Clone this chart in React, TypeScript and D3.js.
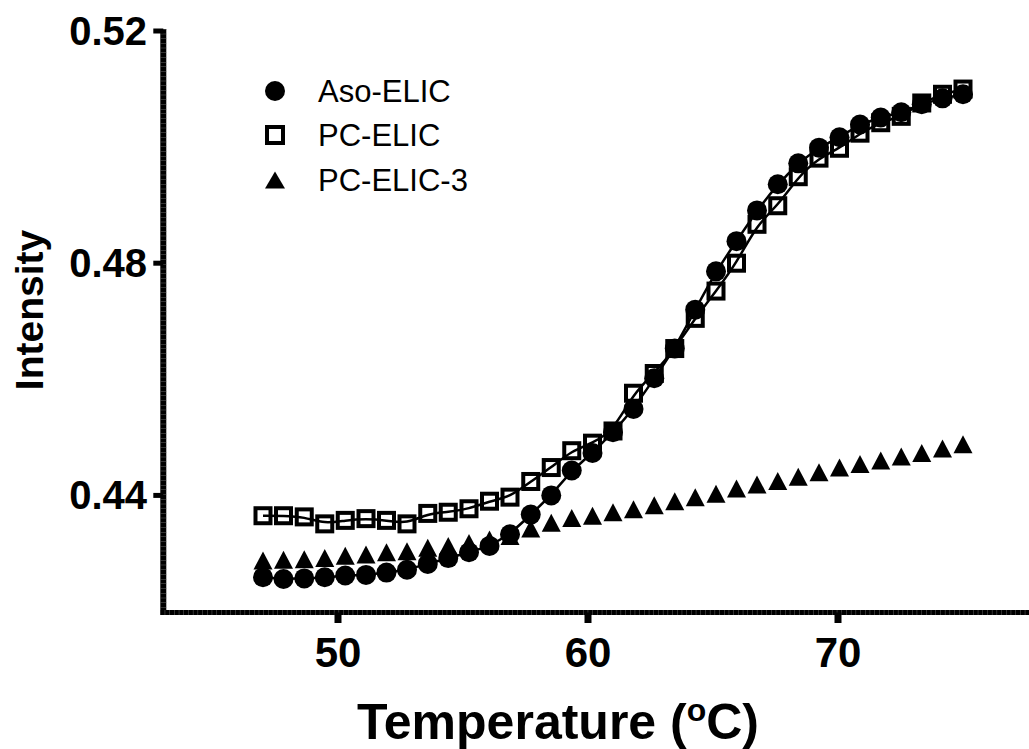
import React, { useEffect, useRef } from 'react';
import * as d3 from 'd3';

// temperature (oC) of each reading
const temps = [
  47.0, 47.82, 48.65, 49.47, 50.29, 51.12, 51.94, 52.76, 53.59, 54.41,
  55.24, 56.06, 56.88, 57.71, 58.53, 59.35, 60.18, 61.0, 61.82, 62.65,
  63.47, 64.29, 65.12, 65.94, 66.76, 67.59, 68.41, 69.24, 70.06, 70.88,
  71.71, 72.53, 73.35, 74.18, 75.0,
];

const asoElic = [
  0.4259, 0.4256, 0.4257, 0.4259, 0.4262, 0.4263, 0.4267, 0.4272, 0.4282, 0.4292,
  0.4302, 0.4313, 0.4333, 0.4367, 0.44, 0.4443, 0.4473, 0.4509, 0.4549, 0.4602,
  0.4653, 0.472, 0.4786, 0.4838, 0.4891, 0.4936, 0.4972, 0.4999, 0.5017, 0.5039,
  0.5051, 0.506, 0.5074, 0.5084, 0.5091,
];

const pcElic = [
  0.4365, 0.4365, 0.4363, 0.4351, 0.4357, 0.436, 0.4357, 0.4351, 0.4369, 0.4371,
  0.4377, 0.439, 0.4397, 0.4424, 0.4448, 0.4477, 0.449, 0.4511, 0.4576, 0.461,
  0.4653, 0.4705, 0.4752, 0.48, 0.4867, 0.4899, 0.4949, 0.4981, 0.4998, 0.5024,
  0.5042, 0.5053, 0.5076, 0.5091, 0.51,
];

const pcElic3 = [
  0.4288, 0.4289, 0.429, 0.4292, 0.4296, 0.4298, 0.4302, 0.4304, 0.431, 0.4313,
  0.4318, 0.4324, 0.433, 0.4343, 0.4353, 0.4361, 0.4365, 0.4371, 0.4376, 0.4383,
  0.439, 0.4397, 0.4403, 0.4412, 0.4419, 0.4425, 0.4432, 0.444, 0.4448, 0.4454,
  0.446, 0.4467, 0.4473, 0.4481, 0.4488,
];

const seriesNames = ['Aso-ELIC', 'PC-ELIC', 'PC-ELIC-3'];
const xTicks = [50, 60, 70];
const yTicks = [0.44, 0.48, 0.52];

const FONT = '"Liberation Sans", Arial, Helvetica, sans-serif';

const App = () => {
  const svgRef = useRef<SVGSVGElement>(null);

  useEffect(() => {
    const W = 1029, H = 749;
    const left = 163.3, right = 1029, top = 31, bottom = 612.5;

    const svg = d3.select(svgRef.current);
    svg.selectAll('*').remove();
    svg.attr('width', W).attr('height', H);

    const x = d3.scaleLinear().domain([42.88, 77.64]).range([left - 3.3, right]);
    const y = d3.scaleLinear().domain([0.41983, 0.52]).range([bottom, top]);

    // fit-like curves through the data
    const line = d3.line<number>()
      .x((d, i) => x(temps[i]))
      .y(d => y(d))
      .curve(d3.curveBasis);

    [asoElic, pcElic].forEach(vals => {
      svg.append('path')
        .attr('d', line(vals))
        .attr('fill', 'none')
        .attr('stroke', '#000')
        .attr('stroke-width', 2.5);
    });

    const tri = (cx: number, cy: number, w: number, h: number) =>
      `M${cx},${cy - h / 2}L${cx + w / 2},${cy + h / 2}L${cx - w / 2},${cy + h / 2}Z`;

    // circles
    svg.append('g').selectAll('circle')
      .data(asoElic)
      .enter().append('circle')
      .attr('cx', (d, i) => x(temps[i]))
      .attr('cy', d => y(d))
      .attr('r', 10)
      .attr('fill', '#000');

    // open squares
    svg.append('g').selectAll('rect')
      .data(pcElic)
      .enter().append('rect')
      .attr('x', (d, i) => x(temps[i]) - 7.5)
      .attr('y', d => y(d) - 7.5)
      .attr('width', 15)
      .attr('height', 15)
      .attr('fill', 'none')
      .attr('stroke', '#000')
      .attr('stroke-width', 4);

    // triangles
    svg.append('g').selectAll('path')
      .data(pcElic3)
      .enter().append('path')
      .attr('d', (d, i) => tri(x(temps[i]), y(d), 19, 18))
      .attr('fill', '#000');

    // y axis (solid with faint segment marks, like the original export)
    svg.append('line')
      .attr('x1', left).attr('x2', left)
      .attr('y1', top - 2).attr('y2', bottom + 2.5)
      .attr('stroke', '#000').attr('stroke-width', 6);
    svg.append('line')
      .attr('x1', left).attr('x2', left)
      .attr('y1', top - 2).attr('y2', bottom + 2.5)
      .attr('stroke', '#666').attr('stroke-width', 6)
      .attr('stroke-dasharray', '0.5 4.2');
    svg.append('g').selectAll('line')
      .data(yTicks)
      .enter().append('line')
      .attr('x1', left - 10).attr('x2', left)
      .attr('y1', d => y(d)).attr('y2', d => y(d))
      .attr('stroke', '#000').attr('stroke-width', 5);
    svg.append('g').selectAll('text')
      .data(yTicks)
      .enter().append('text')
      .attr('x', 147)
      .attr('y', d => y(d) + 14)
      .attr('text-anchor', 'end')
      .attr('font-family', FONT)
      .attr('font-weight', 'bold')
      .attr('font-size', 40)
      .text(d => d3.format('.2f')(d));

    // x axis
    svg.append('line')
      .attr('x1', left - 3.3).attr('x2', right)
      .attr('y1', bottom).attr('y2', bottom)
      .attr('stroke', '#000').attr('stroke-width', 5);
    svg.append('line')
      .attr('x1', left - 3.3).attr('x2', right)
      .attr('y1', bottom).attr('y2', bottom)
      .attr('stroke', '#666').attr('stroke-width', 5)
      .attr('stroke-dasharray', '0.5 4.2');
    svg.append('g').selectAll('line')
      .data(xTicks)
      .enter().append('line')
      .attr('x1', d => x(d)).attr('x2', d => x(d))
      .attr('y1', bottom).attr('y2', bottom + 10.5)
      .attr('stroke', '#000').attr('stroke-width', 7);
    svg.append('g').selectAll('text')
      .data(xTicks)
      .enter().append('text')
      .attr('x', d => x(d))
      .attr('y', 667)
      .attr('text-anchor', 'middle')
      .attr('font-family', FONT)
      .attr('font-weight', 'bold')
      .attr('font-size', 42)
      .text(d => d);

    // axis titles
    const xt = svg.append('text')
      .attr('x', 558)
      .attr('y', 739)
      .attr('text-anchor', 'middle')
      .attr('font-family', FONT)
      .attr('font-weight', 'bold')
      .attr('font-size', 50);
    xt.append('tspan').text('Temperature (');
    xt.append('tspan').attr('dy', -18).attr('font-size', 32).text('o');
    xt.append('tspan').attr('dy', 18).text('C)');

    svg.append('text')
      .attr('transform', 'translate(43,310) rotate(-90)')
      .attr('text-anchor', 'middle')
      .attr('font-family', FONT)
      .attr('font-weight', 'bold')
      .attr('font-size', 39)
      .text('Intensity');

    // legend
    const lg = svg.append('g');
    const legendY = [91, 135, 180];
    lg.append('circle').attr('cx', 275).attr('cy', legendY[0]).attr('r', 10).attr('fill', '#000');
    lg.append('rect').attr('x', 267).attr('y', legendY[1] - 8).attr('width', 16).attr('height', 16)
      .attr('fill', 'none').attr('stroke', '#000').attr('stroke-width', 4);
    lg.append('path').attr('d', tri(275, legendY[2], 20, 17)).attr('fill', '#000');
    lg.selectAll('text')
      .data(seriesNames)
      .enter().append('text')
      .attr('x', 318)
      .attr('y', (d, i) => legendY[i] + 11)
      .attr('font-family', FONT)
      .attr('font-size', 31)
      .text(d => d);
  }, []);

  return (
    <svg ref={svgRef} style={{ position: 'absolute', left: 0, top: 0, background: '#fff' }}></svg>
  );
};

export default App;
